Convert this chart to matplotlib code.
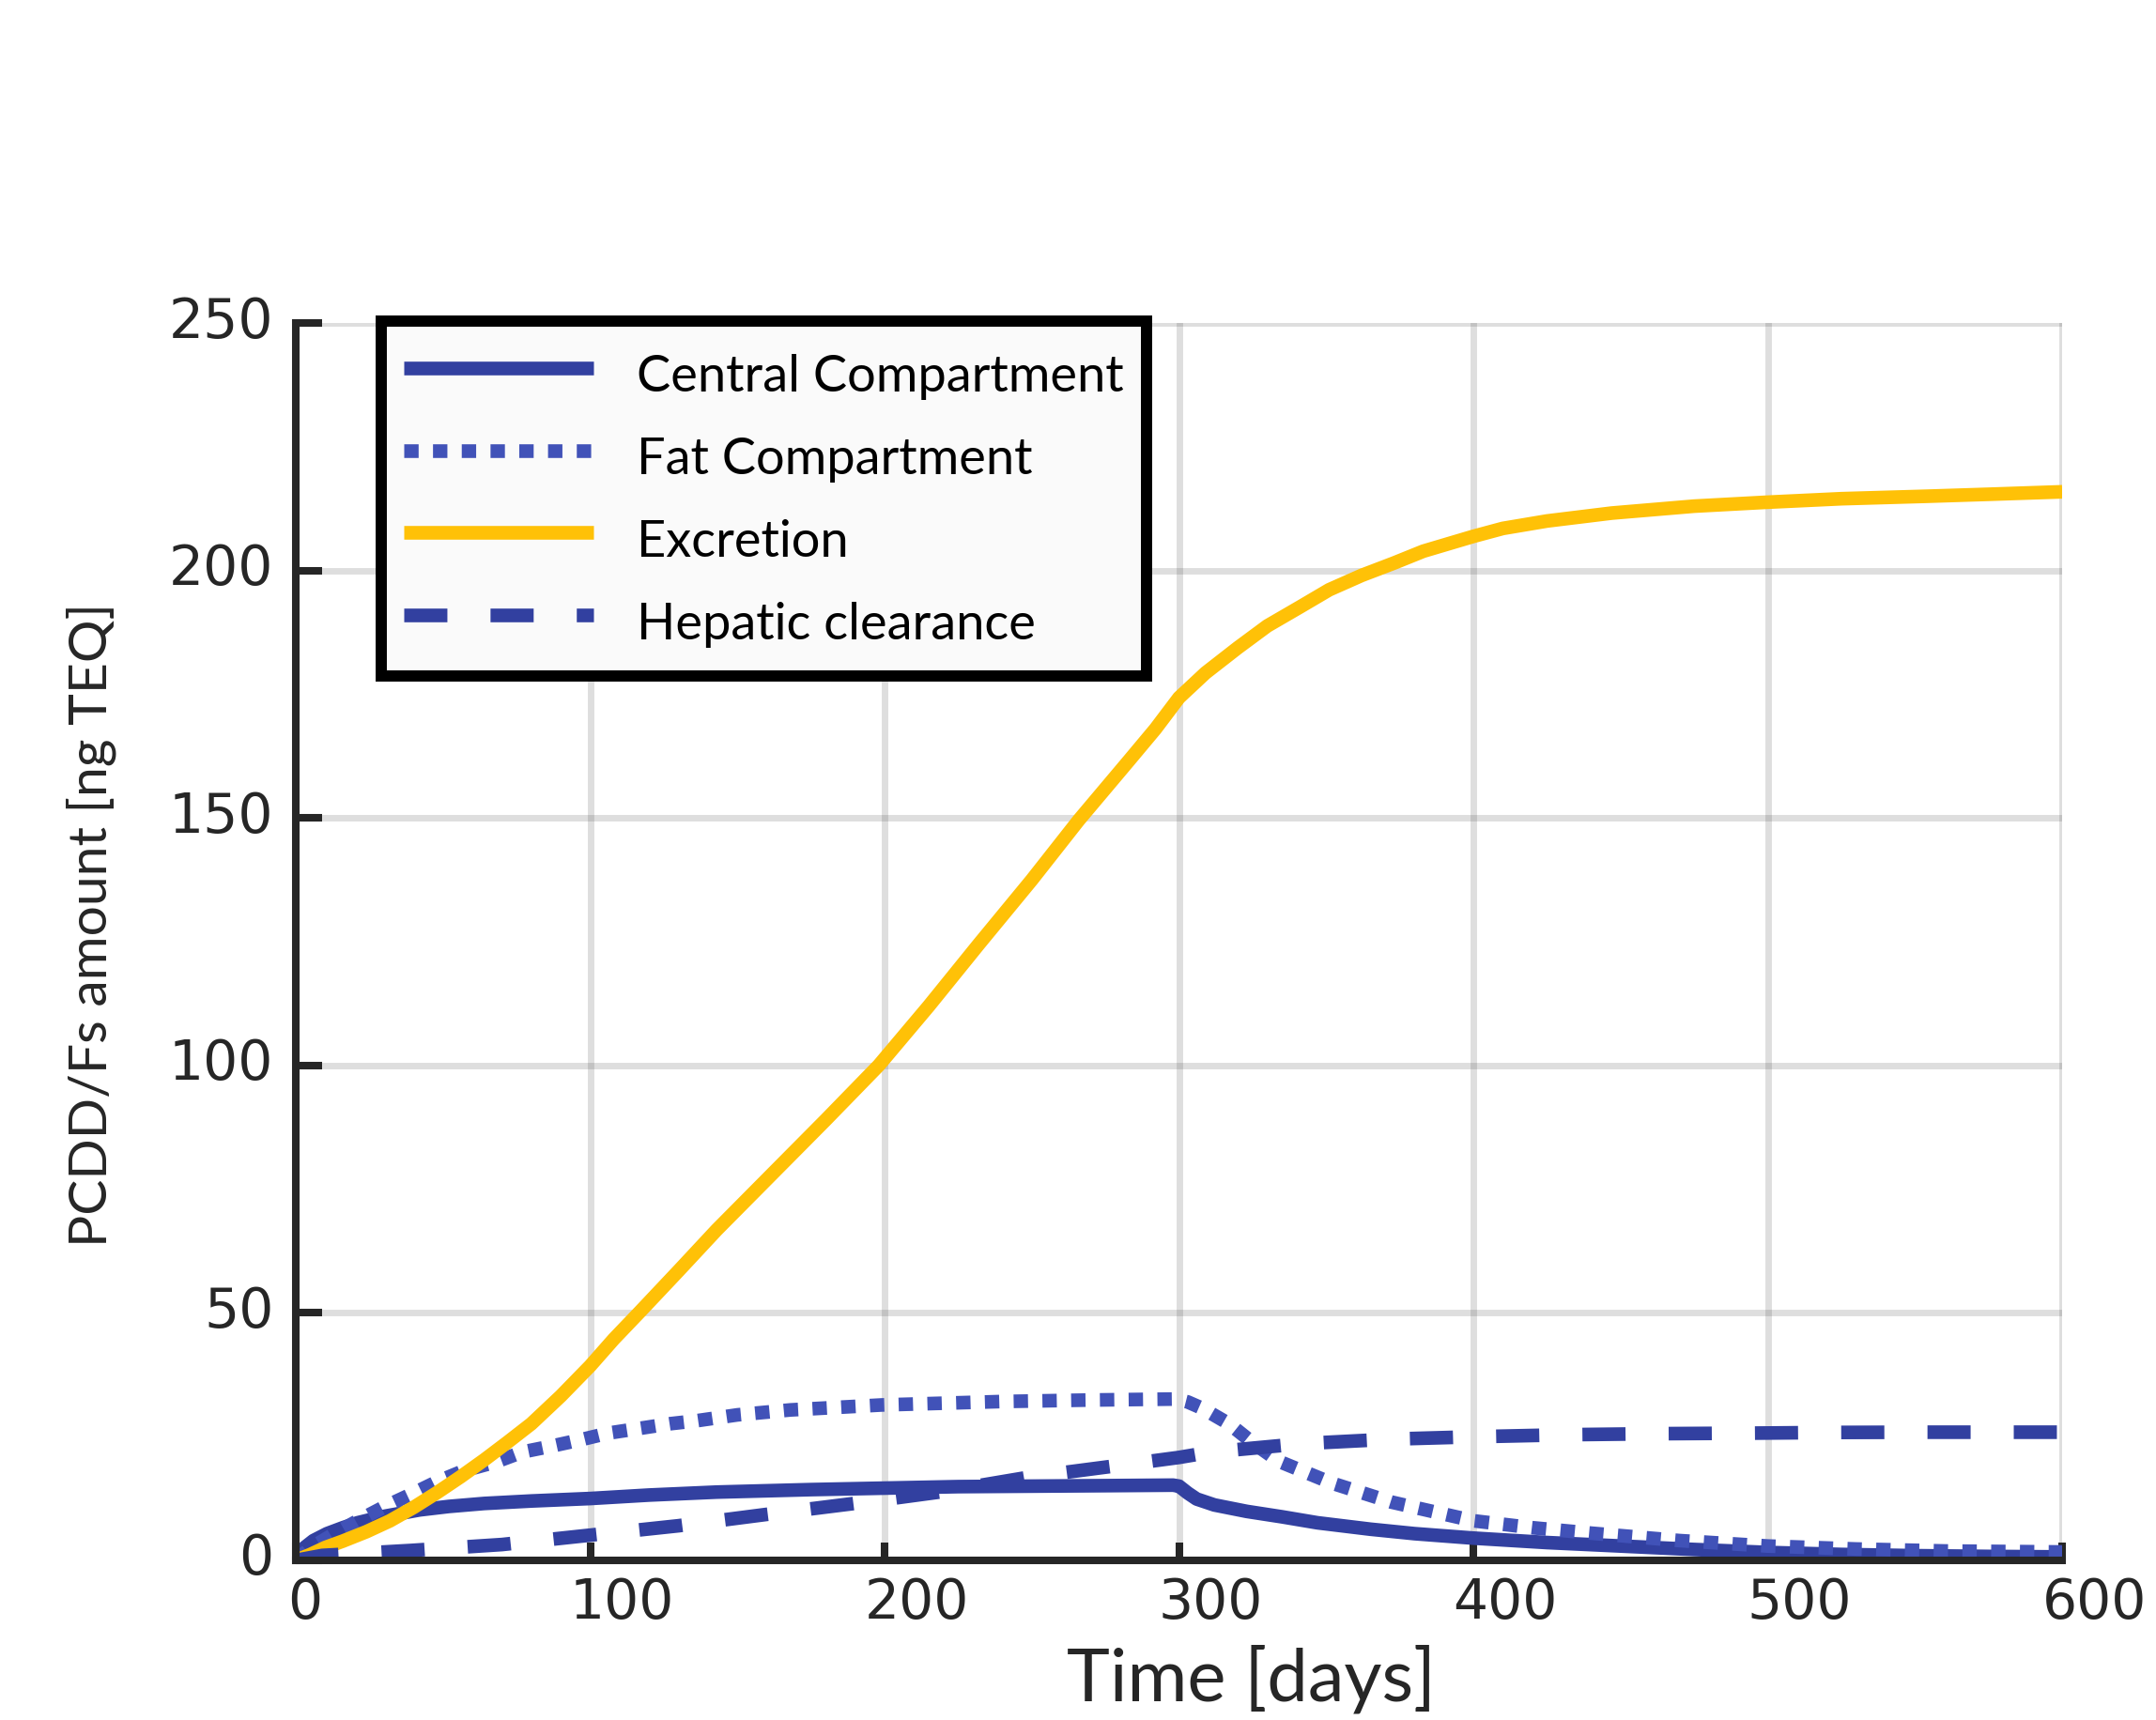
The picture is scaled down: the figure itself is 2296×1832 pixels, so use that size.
import matplotlib
matplotlib.use("Agg")
import matplotlib.pyplot as plt
import matplotlib.transforms as mtransforms

# values
t_central = [0, 3, 6, 10.6, 16, 21, 30, 42, 52, 64, 80, 100, 120, 143, 175, 200, 225,
             250, 275, 298, 300, 303, 306, 312, 323, 335, 347, 365, 380, 400, 425,
             450, 475, 500, 525, 550, 575, 600]
central = [0, 2.6, 4.0, 5.4, 6.6, 7.6, 8.9, 10.2, 10.9, 11.5, 12.0, 12.5, 13.2, 13.8,
           14.3, 14.6, 14.9, 15.0, 15.1, 15.2, 15.0, 13.6, 12.4, 11.2, 9.9, 8.8, 7.6,
           6.3, 5.4, 4.5, 3.6, 2.9, 2.2, 1.6, 1.2, 0.95, 0.8, 0.7]

t_fat = [0, 5, 12, 21, 30, 39, 48, 57, 68, 77, 87, 97, 106, 116, 127, 136, 150, 168,
         199, 240, 270, 299, 303, 308, 317, 325, 334, 352, 372, 400, 420, 440, 470,
         500, 530, 560, 600]
fat = [0, 2.5, 5.0, 8.0, 10.8, 13.3, 15.9, 18.1, 19.9, 21.9, 23.1, 24.4, 25.7, 26.6,
       27.6, 28.2, 29.4, 30.4, 31.4, 32.1, 32.4, 32.6, 32.0, 30.7, 27.6, 23.8, 20.0,
       15.6, 11.8, 8.0, 6.6, 5.5, 4.0, 2.9, 2.3, 1.9, 1.7]

t_excr = [0, 5, 10, 16, 24, 32, 40, 48, 56, 64, 72, 80, 90, 100, 108, 117, 130, 143,
          160, 180, 198, 215, 232, 250, 266, 283, 292, 300, 309, 320, 330, 341, 351,
          362, 373, 383, 400, 410, 425, 447, 475, 500, 525, 554, 575, 600]
excretion = [0, 1.2, 2.6, 3.9, 5.8, 8.0, 10.7, 13.7, 16.9, 20.3, 23.9, 27.6, 33.2, 39.3,
             44.7, 50.3, 58.5, 66.8, 77.0, 89.0, 100.0, 112.0, 124.5, 137.5, 149.6,
             161.6, 168.0, 174.3, 179.3, 184.4, 188.8, 192.6, 196.1, 199.0, 201.5,
             203.9, 206.9, 208.5, 210.0, 211.6, 213.0, 213.8, 214.5, 215.0, 215.4, 215.9]

t_hep = [0, 9, 39, 70, 100, 130, 160, 191, 221, 250, 281, 300, 311, 342, 372, 402,
         433, 463, 493, 523, 554, 584, 600]
hepatic = [0, 1.0, 2.0, 3.2, 5.1, 7.0, 9.3, 11.6, 14.0, 16.9, 19.3, 20.8, 21.9, 23.6,
           24.5, 25.0, 25.4, 25.6, 25.7, 25.85, 25.9, 25.9, 25.9]

labels = ["Central Compartment", "Fat Compartment", "Excretion", "Hepatic clearance"]
x_ticks = [0, 100, 200, 300, 400, 500, 600]
y_ticks = [0, 50, 100, 150, 200, 250]

dark_blue = "#3240a0"
mid_blue = "#4152b8"
amber = "#ffc107"
axis_grey = "#262626"
text_font = ["Lato", "DejaVu Sans"]

fig = plt.figure(figsize=(22.96, 18.32), dpi=100)
ax = fig.add_axes([0.1372, 0.0928, 0.8193, 0.7194])

lw = 10.5
ax.plot(t_central, central, color=dark_blue, lw=lw, label=labels[0],
        solid_joinstyle="round", solid_capstyle="butt")
ax.plot(t_fat, fat, color=mid_blue, lw=lw, label=labels[1],
        dashes=(1.05, 1.05), dash_capstyle="butt")
ax.plot(t_excr, excretion, color=amber, lw=lw, label=labels[2],
        solid_joinstyle="round", solid_capstyle="butt")
ax.plot(t_hep, hepatic, color=dark_blue, lw=lw, label=labels[3],
        dashes=(3.15, 3.15), dash_capstyle="butt")

ax.set_xlim(0, 600)
ax.set_ylim(0, 250)
ax.set_xticks(x_ticks)
ax.set_yticks(y_ticks)
ax.grid(True, color=axis_grey, alpha=0.15, lw=5)
ax.set_axisbelow(True)

for s in ("top", "right"):
    ax.spines[s].set_visible(False)
for s in ("left", "bottom"):
    ax.spines[s].set_color(axis_grey)
    ax.spines[s].set_linewidth(5.8)

ax.tick_params(axis="both", direction="in", width=5.8, color=axis_grey,
               labelcolor=axis_grey, labelsize=42)
ax.tick_params(axis="y", length=20, pad=17)
ax.tick_params(axis="x", length=14, pad=12)

# tick labels in the reference sit a little right of / above their ticks
for lab, val in zip(ax.get_xticklabels(), x_ticks):
    dx = 0.34 if len(str(val)) > 1 else 0.10
    lab.set_transform(lab.get_transform() +
                      mtransforms.ScaledTranslation(dx, 0, fig.dpi_scale_trans))
for lab in ax.get_yticklabels():
    lab.set_transform(lab.get_transform() +
                      mtransforms.ScaledTranslation(0, 0.07, fig.dpi_scale_trans))

ax.set_xlabel("Time [days]", fontsize=56, family=text_font, color=axis_grey,
              va="center")
ax.xaxis.set_label_coords(0.541, -0.0964)
ax.set_ylabel("PCDD/Fs amount [ng TEQ]", fontsize=41, family=text_font,
              color=axis_grey, va="center")
ax.yaxis.set_label_coords(-0.116, 0.514)

leg = ax.legend(loc="upper left", bbox_to_anchor=(0.1768, 0.8133),
                bbox_transform=fig.transFigure, borderaxespad=0,
                prop={"family": text_font, "size": 39},
                handlelength=3.73, handleheight=1.5, handletextpad=0.85,
                labelspacing=0.40, borderpad=0.45, fancybox=False, framealpha=1)
frame = leg.get_frame()
frame.set_edgecolor("black")
frame.set_linewidth(8.6)
frame.set_facecolor("#fafafa")

fig.savefig("out.png", dpi=100)
